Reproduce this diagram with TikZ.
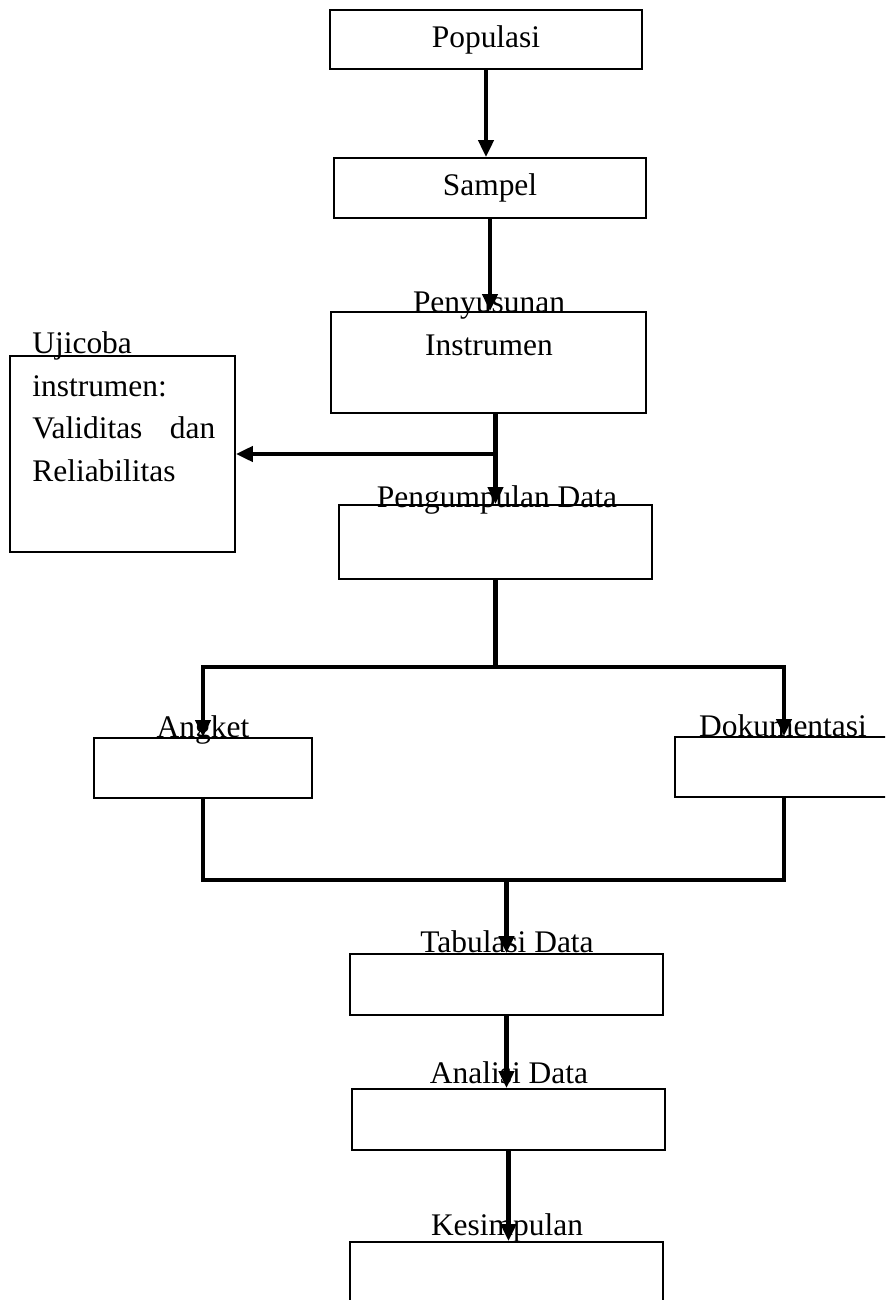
\documentclass[tikz,border=0pt]{standalone}
\usepackage{fontspec}
\setmainfont{Liberation Serif}
\usetikzlibrary{arrows.meta}
\tikzset{
    kotak/.style={draw, line width=1pt, inner sep=0pt, minimum width=6.26cm, minimum height=1.2cm},
    judul/.style={anchor=base, inner sep=0pt},
    garis/.style={line width=2.3pt},
}
\begin{document}
\begin{tikzpicture}[x=0.02cm, y=-0.02cm, >={Triangle[length=0.34cm,width=0.3cm]},
    every node/.style={font=\fontsize{17.9}{24.1}\selectfont}]
    \clip (0,0) rectangle (885,1300);
    % kotak
    \node[kotak, minimum width=6.24cm, minimum height=1.18cm] (pop) at (486,39.5) {Populasi};
    \node[kotak, minimum width=6.24cm] (sam) at (490,188) {Sampel};
    \node[kotak, minimum width=6.3cm, minimum height=2.02cm] (pen) at (488.5,362.5) {};
    \node[kotak, minimum width=4.5cm, minimum height=3.92cm] (uji) at (122.5,454) {};
    \node[kotak, minimum height=1.48cm] (pgd) at (495.5,542) {};
    \node[kotak, minimum width=4.36cm] (ang) at (203,768) {};
    \node[kotak, minimum width=4.36cm] (dok) at (784,767) {};
    \node[kotak, minimum height=1.22cm] (tab) at (506.5,984.5) {};
    \node[kotak, minimum height=1.22cm] (ana) at (508.5,1119.5) {};
    \node[kotak, minimum height=1.6cm] (kes) at (506.5,1282) {};
    % teks
    \node[judul] (penA) at (489,313) {Penyusunan};
    \node[judul] (penB) at (489,356) {Instrumen};
    \node[anchor=base west, inner sep=0pt, text width=3.66cm, align=left] (ujiT) at (32,354)
        {Ujicoba\\instrumen:\\Validitas\hfill dan\\Reliabilitas};
    \node[judul] (pgdT) at (497,507) {Pengumpulan Data};
    \node[judul] (angT) at (203,737) {Angket};
    \node[judul] (dokT) at (783,736) {Dokumentasi};
    \node[judul] (tabT) at (507,952) {Tabulasi Data};
    \node[judul] (anaT) at (509,1083) {Analisi Data};
    \node[judul] (kesT) at (507,1235) {Kesimpulan};
    % panah
    \draw[garis,->] (pop.south) -- (pop.south |- sam.north);
    \draw[garis,->] (sam.south) -- (sam.south |- pen.north);
    \draw[garis,->] (pgd.north |- pen.south) -- (pgd.north);
    \draw[garis,->] (pgd.north |- uji.east) -- (uji.east);
    \path (pgd.south) ++(0,87) coordinate (spl);
    \path (tab.north) ++(0,-73) coordinate (mrg);
    \draw[garis] (pgd.south) -- (spl);
    \draw[garis,->] (spl) -| (ang.north);
    \draw[garis,->] (spl) -| (dok.north);
    \draw[garis] (ang.south) |- (mrg) -| (dok.south);
    \draw[garis,->] (mrg) -- (tab.north);
    \draw[garis,->] (tab.south) -- (tab.south |- ana.north);
    \draw[garis,->] (ana.south) -- (ana.south |- kes.north);
\end{tikzpicture}
\end{document}
